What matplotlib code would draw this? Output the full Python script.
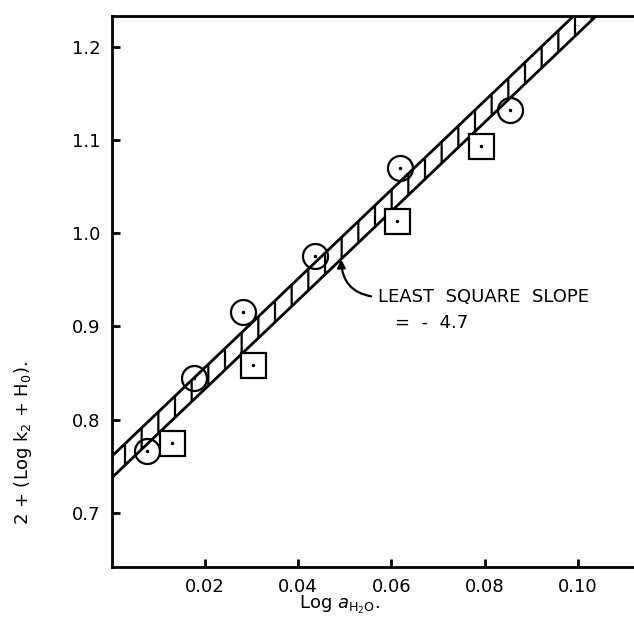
import numpy as np
import matplotlib
matplotlib.use("Agg")
import matplotlib.pyplot as plt

# data
circle_x = [0.0075, 0.0176, 0.0282, 0.0437, 0.0618, 0.0855]
circle_y = [0.766, 0.845, 0.915, 0.976, 1.070, 1.132]
square_x = [0.0129, 0.0304, 0.0611, 0.0792]
square_y = [0.775, 0.859, 1.013, 1.094]

fit_intercept = 0.749
fit_slope = 4.77
band_half = 0.0115

x_ticks = [0.02, 0.04, 0.06, 0.08, 0.10]
x_ticklabels = ["0.02", "0.04", "0.06", "0.08", "0.10"]
y_ticks = [0.7, 0.8, 0.9, 1.0, 1.1, 1.2]
y_ticklabels = ["0.7", "0.8", "0.9", "1.0", "1.1", "1.2"]

plt.rcParams['font.family'] = ['DejaVu Sans']
plt.rcParams['hatch.linewidth'] = 1.6

fig = plt.figure(figsize=(6.34, 6.28), dpi=100)
ax = fig.add_axes([0.176, 0.0971, 0.824, 0.8774])
ax.set_xlim(0, 0.112)
ax.set_ylim(0.642, 1.233)

xs = np.linspace(0, 0.112, 200)
yc = fit_intercept + fit_slope * xs
ax.fill_between(xs, yc - band_half, yc + band_half, facecolor='white',
                edgecolor='black', hatch='|', linewidth=0, zorder=2)
ax.plot(xs, yc - band_half, color='black', lw=2, zorder=3)
ax.plot(xs, yc + band_half, color='black', lw=2, zorder=3)

ax.plot(circle_x, circle_y, linestyle='none', marker='o', markersize=18,
        markerfacecolor='none', markeredgecolor='black', markeredgewidth=1.6, zorder=4)
ax.plot(square_x, square_y, linestyle='none', marker='s', markersize=18,
        markerfacecolor='white', markeredgecolor='black', markeredgewidth=1.6, zorder=4)
ax.plot(circle_x + square_x, circle_y + square_y, linestyle='none', marker='o',
        markersize=1.5, color='black', zorder=5)

ax.annotate("LEAST  SQUARE  SLOPE", xy=(0.0492, 0.972), xytext=(0.0571, 0.9315),
            fontsize=13, va='center', ha='left',
            arrowprops=dict(arrowstyle='-|>', color='black', lw=1.6,
                            mutation_scale=12, shrinkA=3, shrinkB=0,
                            relpos=(0, 0.5),
                            connectionstyle='arc3,rad=-0.45'))
ax.text(0.0607, 0.9036, "=  -  4.7", fontsize=13, va='center', ha='left')

for s in ['left', 'bottom', 'top']:
    ax.spines[s].set_linewidth(2)
ax.spines['right'].set_visible(False)

ax.set_xticks(x_ticks)
ax.set_xticklabels(x_ticklabels)
ax.set_yticks(y_ticks)
ax.set_yticklabels(y_ticklabels)
ax.tick_params(direction='in', length=6, width=2, labelsize=13, pad=8)
ax.tick_params(axis='y', pad=8)

ax.set_xlabel(r"Log $a_{\mathrm{H_2O}}$.", fontsize=13, labelpad=2)
ax.xaxis.set_label_coords(0.437, -0.048)
ax.set_ylabel(r"2 + (Log k$_2$ + H$_0$).", fontsize=13)
ax.yaxis.set_label_coords(-0.148, 0.225)

fig.savefig("out.png", dpi=100)
